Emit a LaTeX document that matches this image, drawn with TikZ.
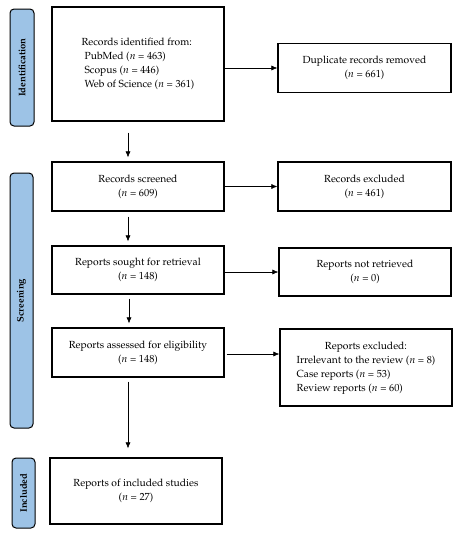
\documentclass[tikz,border=0pt]{standalone}
\usepackage[T1]{fontenc}
\usepackage{mathpazo}
\usepackage{tikz}
\usetikzlibrary{arrows.meta}

\definecolor{barblue}{HTML}{9DC3E6}

\begin{document}
\begin{tikzpicture}[x=1pt, y=-1pt,
    box/.style={draw, line width=1.2pt, align=center, inner sep=2pt,
                font=\fontsize{10.3}{14}\selectfont},
    phase/.style={draw, line width=1pt, fill=barblue, rounded corners=4pt,
                  rotate=90, inner sep=0pt, font=\fontsize{9.5}{11}\selectfont\bfseries},
    arr/.style={-{Latex[length=6pt, width=5pt]}, line width=0.6pt}]
    \useasboundingbox (0, 0) rectangle (458, 550);

    % phase bars
    \node[phase, minimum width=117pt, minimum height=24pt] (pid) at (22, 67.5) {Identification};
    \node[phase, minimum width=255pt, minimum height=23pt] (pscr) at (21.5, 300.5) {Screening};
    \node[phase, minimum width=70pt, minimum height=23pt] (pinc) at (23.5, 493) {Included};

    % left column
    \node[box, minimum width=172pt, minimum height=114pt, align=left] (ident) at (138, 64)
        {Records identified from:\\
         \hspace{3pt}PubMed ($n$ = 463)\\
         \hspace{3pt}Scopus ($n$ = 446)\\
         \hspace{3pt}Web of Science ($n$ = 361)};
    \node[box, minimum width=172pt, minimum height=49pt] (scr) at (138, 186.5)
        {Records screened\\($n$ = 609)};
    \node[box, minimum width=172pt, minimum height=48pt] (sought) at (138, 270)
        {Reports sought for retrieval\\($n$ = 148)};
    \node[box, minimum width=172pt, minimum height=49pt] (assess) at (138, 352.5)
        {Reports assessed for eligibility\\($n$ = 148)};
    \node[box, minimum width=172pt, minimum height=66pt] (incl) at (136, 491)
        {Reports of included studies\\($n$ = 27)};

    % right column
    \node[box, minimum width=173pt, minimum height=49pt] (dup) at (364.5, 68)
        {Duplicate records removed\\($n$ = 661)};
    \node[box, minimum width=173pt, minimum height=49pt] (excl) at (364.5, 186.5)
        {Records excluded\\($n$ = 461)};
    \node[box, minimum width=172pt, minimum height=48pt] (notret) at (365, 272)
        {Reports not retrieved\\($n$ = 0)};
    \node[box, minimum width=172pt, minimum height=77pt] (rexcl) at (366, 367.5)
        {\begin{tabular}{@{}l@{}}
         \multicolumn{1}{@{}c@{}}{Reports excluded:}\\
         Irrelevant to the review ($n$ = 8)\\
         Case reports ($n$ = 53)\\
         Review reports ($n$ = 60)
         \end{tabular}};

    % arrows
    \draw[arr] (ident.east |- dup.west) -- (dup.west);
    \draw[arr] (scr.east) -- (excl.west);
    \draw[arr] (sought.east |- notret.west) -- (notret.west);
    \draw[arr, shorten <=2pt] (assess.east |- 0, 354) -- (rexcl.west |- 0, 354);

    \draw[arr, shorten <=11pt, shorten >=4pt] ([xshift=-10pt]ident.south) -- ([xshift=-10pt]scr.north);
    \draw[arr, shorten <=5pt, shorten >=4pt] ([xshift=-10pt]scr.south) -- ([xshift=-10pt]sought.north);
    \draw[arr, shorten <=4pt, shorten >=4pt] ([xshift=-9pt]sought.south) -- ([xshift=-9pt]assess.north);
    \draw[arr, shorten <=4pt, shorten >=9pt] ([xshift=-10pt]assess.south) -- ([xshift=-8pt]incl.north);
\end{tikzpicture}
\end{document}
